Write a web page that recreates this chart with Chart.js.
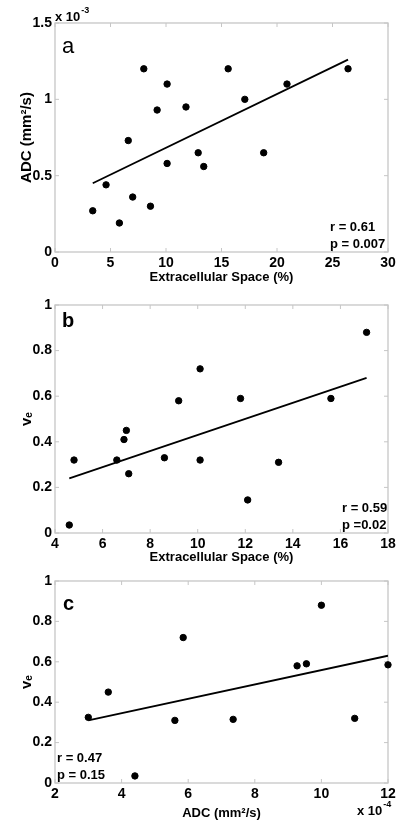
<!DOCTYPE html>
<html lang="en">
  <head>
    <meta charset="UTF-8" />
    <title>ADC / ve vs extracellular space</title>
    <script src="https://cdn.jsdelivr.net/npm/chart.js"></script>
    <style>
      body { margin: 0; background: #fff; }
      canvas { display: block; }
    </style>
  </head>
  <body>
    <canvas id="panelA" width="406" height="285"></canvas>
    <canvas id="panelB" width="406" height="280"></canvas>
    <canvas id="panelC" width="406" height="256"></canvas>

    <script>
      // panel a: ADC (x 10^-3 mm2/s) vs extracellular space (%)
      const spaceA = [3.4, 4.6, 5.8, 6.6, 7.0, 8.0, 8.6, 9.2, 10.1, 10.1, 11.8, 12.9, 13.4, 15.6, 17.1, 18.8, 20.9, 26.4];
      const adcA = [0.27, 0.44, 0.19, 0.73, 0.36, 1.2, 0.3, 0.93, 1.1, 0.58, 0.95, 0.65, 0.56, 1.2, 1.0, 0.65, 1.1, 1.2];
      const fitAx = [3.4, 26.4];
      const fitAy = [0.45, 1.26];
      const xTicksA = [0, 5, 10, 15, 20, 25, 30];
      const yTicksA = [0, 0.5, 1, 1.5];

      // panel b: ve vs extracellular space (%)
      const spaceB = [4.6, 4.8, 6.6, 6.9, 7.0, 7.1, 8.6, 9.2, 10.1, 10.1, 11.8, 12.1, 13.4, 15.6, 17.1];
      const veB = [0.035, 0.32, 0.32, 0.41, 0.45, 0.26, 0.33, 0.58, 0.72, 0.32, 0.59, 0.145, 0.31, 0.59, 0.88];
      const fitBx = [4.6, 17.1];
      const fitBy = [0.24, 0.68];
      const xTicksB = [4, 6, 8, 10, 12, 14, 16, 18];
      const yTicksB = [0, 0.2, 0.4, 0.6, 0.8, 1];

      // panel c: ve vs ADC (x 10^-4 mm2/s)
      const adcC = [3.0, 3.6, 4.4, 5.6, 5.85, 7.35, 9.27, 9.55, 10.0, 11.0, 12.0];
      const veC = [0.325, 0.45, 0.035, 0.31, 0.72, 0.315, 0.58, 0.59, 0.88, 0.32, 0.585];
      const fitCx = [3.0, 12.0];
      const fitCy = [0.31, 0.63];
      const xTicksC = [2, 4, 6, 8, 10, 12];
      const yTicksC = [0, 0.2, 0.4, 0.6, 0.8, 1];

      const FONT = "'Liberation Sans', Arial, Helvetica, sans-serif";
      Chart.defaults.font.family = FONT;
      Chart.defaults.color = "#000";

      const zip = (xs, ys) => xs.map((v, i) => ({ x: v, y: ys[i] }));
      const plain = (v) => String(+v.toFixed(2)); // 1 not 1.0, like matlab

      // matlab-ish box with inward tick marks + the text notes
      const framePlugin = {
        id: "frame",
        beforeDatasetsDraw(chart) {
          const { ctx, chartArea: a, scales } = chart;
          ctx.save();
          ctx.strokeStyle = "#c6c6c6";
          ctx.lineWidth = 1.3;
          ctx.strokeRect(a.left, a.top, a.right - a.left, a.bottom - a.top);
          ctx.lineWidth = 1;
          ctx.beginPath();
          scales.x.ticks.forEach((t) => {
            const px = scales.x.getPixelForValue(t.value);
            ctx.moveTo(px, a.bottom); ctx.lineTo(px, a.bottom - 4);
            ctx.moveTo(px, a.top); ctx.lineTo(px, a.top + 4);
          });
          scales.y.ticks.forEach((t) => {
            const py = scales.y.getPixelForValue(t.value);
            ctx.moveTo(a.left, py); ctx.lineTo(a.left + 4, py);
            ctx.moveTo(a.right, py); ctx.lineTo(a.right - 4, py);
          });
          ctx.stroke();
          ctx.restore();
        },
        afterDatasetsDraw(chart, args, opts) {
          const ctx = chart.ctx;
          ctx.save();
          ctx.fillStyle = "#000";
          ctx.textBaseline = "alphabetic";
          (opts.notes || []).forEach((n) => {
            ctx.font = n.font;
            ctx.fillText(n.text, n.x, n.y);
          });
          if (opts.exp) {
            const e = opts.exp;
            ctx.font = "bold 13px " + FONT;
            ctx.fillText("x 10", e.x, e.y);
            const w = ctx.measureText("x 10").width;
            ctx.font = "bold 9px " + FONT;
            ctx.fillText(e.power, e.x + w + 1, e.y - 8);
          }
          ctx.restore();
        },
      };

      function makePanel(id, opts) {
        const el = document.getElementById(id);
        const H = el.height;
        return new Chart(el, {
          type: "scatter",
          data: {
            datasets: [
              {
                data: zip(opts.xs, opts.ys),
                backgroundColor: "#000",
                borderColor: "#000",
                pointRadius: 3.2,
                clip: false,
              },
              {
                type: "line",
                data: zip(opts.fitX, opts.fitY),
                borderColor: "#000",
                borderWidth: 1.8,
                pointRadius: 0,
                fill: false,
              },
            ],
          },
          options: {
            responsive: false,
            animation: false,
            events: [],
            layout: { padding: { top: opts.top, right: 18, left: 0, bottom: 0 } },
            plugins: {
              legend: { display: false },
              tooltip: { enabled: false },
              frame: { notes: opts.notes, exp: opts.exp },
            },
            scales: {
              x: {
                type: "linear",
                min: opts.xTicks[0],
                max: opts.xTicks[opts.xTicks.length - 1],
                afterBuildTicks: (s) => { s.ticks = opts.xTicks.map((v) => ({ value: v })); },
                afterFit: (s) => { s.height = H - opts.bottom; },
                grid: { display: false, drawTicks: false },
                border: { display: false },
                ticks: { padding: 3, maxRotation: 0, callback: plain, font: { size: 14, weight: "bold" } },
                title: {
                  display: true,
                  text: opts.xTitle,
                  padding: { top: 0, bottom: 0 },
                  font: { size: 13, weight: "bold" },
                },
              },
              y: {
                type: "linear",
                min: opts.yTicks[0],
                max: opts.yTicks[opts.yTicks.length - 1],
                afterBuildTicks: (s) => { s.ticks = opts.yTicks.map((v) => ({ value: v })); },
                afterFit: (s) => { s.width = 55; },
                grid: { display: false, drawTicks: false },
                border: { display: false },
                ticks: { padding: 3, callback: plain, font: { size: 14, weight: "bold" } },
                title: {
                  display: true,
                  text: opts.yTitle,
                  padding: { top: 18, bottom: 0 },
                  font: { size: 15, weight: "bold" },
                },
              },
            },
          },
          plugins: [framePlugin],
        });
      }

      const noteFont = "bold 13px " + FONT;

      makePanel("panelA", {
        xs: spaceA, ys: adcA, fitX: fitAx, fitY: fitAy,
        xTicks: xTicksA, yTicks: yTicksA,
        top: 23, bottom: 252,
        xTitle: "Extracellular Space (%)",
        yTitle: "ADC (mm²/s)",
        exp: { x: 55, y: 21, power: "-3" },
        notes: [
          { text: "a", x: 62, y: 53, font: "22px " + FONT },
          { text: "r = 0.61", x: 330, y: 231, font: noteFont },
          { text: "p = 0.007", x: 330, y: 248, font: noteFont },
        ],
      });

      makePanel("panelB", {
        xs: spaceB, ys: veB, fitX: fitBx, fitY: fitBy,
        xTicks: xTicksB, yTicks: yTicksB,
        top: 20, bottom: 248,
        xTitle: "Extracellular Space (%)",
        yTitle: "vₑ",
        notes: [
          { text: "b", x: 62, y: 42, font: "bold 20px " + FONT },
          { text: "r = 0.59", x: 342, y: 227, font: noteFont },
          { text: "p =0.02", x: 342, y: 244, font: noteFont },
        ],
      });

      makePanel("panelC", {
        xs: adcC, ys: veC, fitX: fitCx, fitY: fitCy,
        xTicks: xTicksC, yTicks: yTicksC,
        top: 16, bottom: 218,
        xTitle: "ADC (mm²/s)",
        yTitle: "vₑ",
        exp: { x: 357, y: 250, power: "-4" },
        notes: [
          { text: "c", x: 63, y: 45, font: "bold 20px " + FONT },
          { text: "r = 0.47", x: 57, y: 197, font: noteFont },
          { text: "p = 0.15", x: 57, y: 214, font: noteFont },
        ],
      });
    </script>
  </body>
</html>
